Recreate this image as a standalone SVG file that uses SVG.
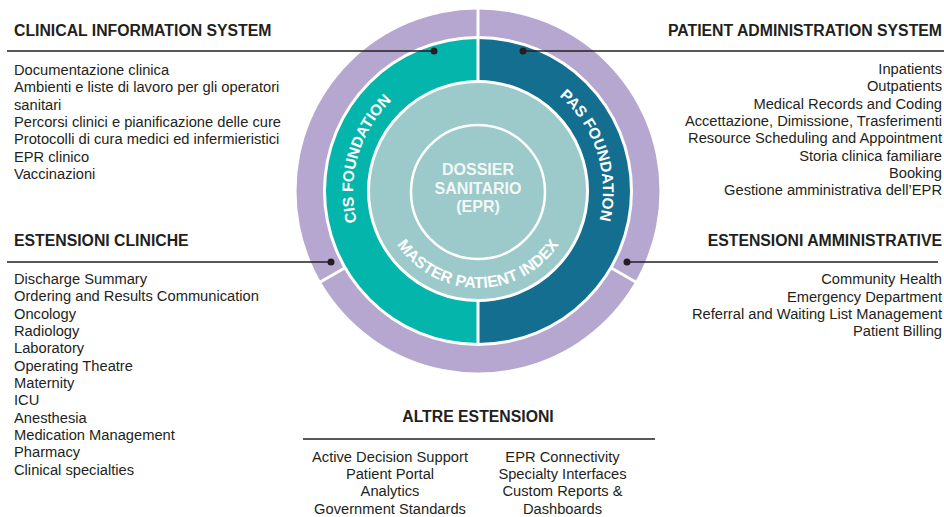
<svg xmlns="http://www.w3.org/2000/svg" width="944" height="517" viewBox="0 0 944 517">
<style>
.h{font-family:"Liberation Sans",Arial,sans-serif;font-weight:bold;font-size:15.8px;fill:#231f20}
.b{font-family:"Liberation Sans",Arial,sans-serif;font-size:14.7px;fill:#231f20}
.r{text-anchor:end}
.m{text-anchor:middle}
.ring{font-family:"Liberation Sans",Arial,sans-serif;font-weight:bold;font-size:15.5px;fill:#ffffff}
.mpi{font-family:"Liberation Sans",Arial,sans-serif;font-weight:bold;font-size:16px;fill:#ffffff}
.core{font-family:"Liberation Sans",Arial,sans-serif;font-weight:bold;font-size:16px;fill:#f2f8f8;text-anchor:middle}
.ln{stroke:#231f20;stroke-width:1.3;fill:none}
.dot{fill:#231f20}
.sep{stroke:#ffffff;stroke-width:3}
</style>
<defs>
<path id="pCIS" d="M415.5,299.25 A125,125 0 0 1 482.4,66.1"/>
<path id="pPAS" d="M464.9,66.7 A125,125 0 0 1 540.5,299.25"/>
<path id="pMPI" d="M381,191 A97,97 0 0 0 575,191"/>
</defs>
<rect width="944" height="517" fill="#ffffff"/>

<g id="wheel">
<circle cx="478" cy="191" r="181.5" fill="#b5a7d0"/>
<circle cx="478" cy="191" r="155" fill="#ffffff"/>
<line class="sep" x1="478" y1="7" x2="478" y2="40"/>
<line class="sep" x1="609.6" y1="267" x2="637" y2="282.8"/>
<line class="sep" x1="346.4" y1="267" x2="319" y2="282.8"/>
</g>

<g id="cis-foundation">
<path d="M478,39 A152,152 0 0 0 478,343 Z" fill="#03b5aa"/>
<text class="ring"><textPath href="#pCIS" startOffset="50%" text-anchor="middle">CIS FOUNDATION</textPath></text>
</g>
<g id="pas-foundation">
<path d="M478,39 A152,152 0 0 1 478,343 Z" fill="#136e8f"/>
<text class="ring"><textPath href="#pPAS" startOffset="50%" text-anchor="middle">PAS FOUNDATION</textPath></text>
</g>
<line class="sep" x1="478" y1="38" x2="478" y2="344"/>

<g id="master-patient-index">
<circle cx="478" cy="191" r="109.5" fill="#9cc9c9" stroke="#ffffff" stroke-width="3"/>
<text class="mpi"><textPath href="#pMPI" startOffset="50%" text-anchor="middle">MASTER PATIENT INDEX</textPath></text>
</g>

<g id="dossier">
<circle cx="478" cy="192" r="67" fill="none" stroke="#ffffff" stroke-width="2.5"/>
<text class="core" x="478" y="175">DOSSIER</text>
<text class="core" x="478" y="194">SANITARIO</text>
<text class="core" x="478" y="212">(EPR)</text>
</g>

<g id="connectors">
<line class="ln" x1="7" y1="51" x2="434" y2="51"/>
<circle class="dot" cx="434" cy="51" r="3.5"/>
<line class="ln" x1="523" y1="51" x2="944" y2="51"/>
<circle class="dot" cx="523" cy="51" r="3.5"/>
<line class="ln" x1="7" y1="262" x2="331" y2="262"/>
<circle class="dot" cx="331" cy="262" r="3.5"/>
<line class="ln" x1="627" y1="262" x2="938" y2="262"/>
<circle class="dot" cx="627" cy="262" r="3.5"/>
<line class="ln" x1="303" y1="439" x2="655" y2="439"/>
</g>

<g id="clinical-information-system">
<text class="h" x="14" y="36">CLINICAL INFORMATION SYSTEM</text>
<text class="b" x="14" y="75">Documentazione clinica</text>
<text class="b" x="14" y="92.3">Ambienti e liste di lavoro per gli operatori</text>
<text class="b" x="14" y="109.6">sanitari</text>
<text class="b" x="14" y="127">Percorsi clinici e pianificazione delle cure</text>
<text class="b" x="14" y="144.3">Protocolli di cura medici ed infermieristici</text>
<text class="b" x="14" y="161.6">EPR clinico</text>
<text class="b" x="14" y="179">Vaccinazioni</text>
</g>

<g id="patient-administration-system">
<text class="h r" x="942" y="36">PATIENT ADMINISTRATION SYSTEM</text>
<text class="b r" x="942" y="74">Inpatients</text>
<text class="b r" x="942" y="91.3">Outpatients</text>
<text class="b r" x="942" y="108.6">Medical Records and Coding</text>
<text class="b r" x="942" y="126">Accettazione, Dimissione, Trasferimenti</text>
<text class="b r" x="942" y="143.3">Resource Scheduling and Appointment</text>
<text class="b r" x="942" y="160.6">Storia clinica familiare</text>
<text class="b r" x="942" y="178">Booking</text>
<text class="b r" x="942" y="195.3">Gestione amministrativa dell’EPR</text>
</g>

<g id="estensioni-cliniche">
<text class="h" x="14" y="246">ESTENSIONI CLINICHE</text>
<text class="b" x="14" y="284">Discharge Summary</text>
<text class="b" x="14" y="301.3">Ordering and Results Communication</text>
<text class="b" x="14" y="318.6">Oncology</text>
<text class="b" x="14" y="336">Radiology</text>
<text class="b" x="14" y="353.3">Laboratory</text>
<text class="b" x="14" y="370.6">Operating Theatre</text>
<text class="b" x="14" y="388">Maternity</text>
<text class="b" x="14" y="405.3">ICU</text>
<text class="b" x="14" y="422.6">Anesthesia</text>
<text class="b" x="14" y="440">Medication Management</text>
<text class="b" x="14" y="457.3">Pharmacy</text>
<text class="b" x="14" y="474.6">Clinical specialties</text>
</g>

<g id="estensioni-amministrative">
<text class="h r" x="942" y="246">ESTENSIONI AMMINISTRATIVE</text>
<text class="b r" x="942" y="284.3">Community Health</text>
<text class="b r" x="942" y="301.6">Emergency Department</text>
<text class="b r" x="942" y="319">Referral and Waiting List Management</text>
<text class="b r" x="942" y="336.3">Patient Billing</text>
</g>

<g id="altre-estensioni">
<text class="h m" x="478" y="421.7">ALTRE ESTENSIONI</text>
<text class="b m" x="390" y="461.7">Active Decision Support</text>
<text class="b m" x="390" y="479">Patient Portal</text>
<text class="b m" x="390" y="496.3">Analytics</text>
<text class="b m" x="390" y="513.6">Government Standards</text>
<text class="b m" x="562.5" y="461.7">EPR Connectivity</text>
<text class="b m" x="562.5" y="479">Specialty Interfaces</text>
<text class="b m" x="562.5" y="496.3">Custom Reports &amp;</text>
<text class="b m" x="562.5" y="513.6">Dashboards</text>
</g>
</svg>
